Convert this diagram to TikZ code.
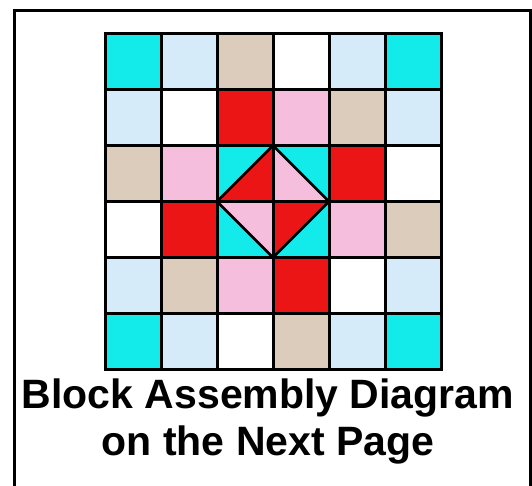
\documentclass[tikz,border=0pt]{standalone}
\usepackage{fontspec}
\setmainfont{Liberation Sans}
\definecolor{Cyancol}{HTML}{13EBEB}
\definecolor{Bluecol}{HTML}{D5EBFA}
\definecolor{Tancol}{HTML}{DCCCBC}
\definecolor{Redcol}{HTML}{EB1515}
\definecolor{Pinkcol}{HTML}{F5BEDC}
\usetikzlibrary{positioning}
\tikzset{
    gridline/.style={black, line width=3pt, line cap=rect},
    diamondline/.style={black, line width=2.5pt, line join=miter},
    caption/.style={anchor=base, font=\bfseries\fontsize{41}{47}\selectfont}
}

\begin{document}
\begin{tikzpicture}[x=1pt, y=-1pt]
    \def\S{56}
    \useasboundingbox (0,0) rectangle (532,485);
    \clip (0,0) rectangle (532,485);

    % Outer frame (open at the bottom edge)
    \draw[black, line width=3pt] (14.5,10.5) rectangle (530.5,500);

    % Quilt block
    \begin{scope}[shift={(105,33.5)}]
        \foreach \row/\cols in {
            0/{Cyancol,Bluecol,Tancol,white,Bluecol,Cyancol},
            1/{Bluecol,white,Redcol,Pinkcol,Tancol,Bluecol},
            2/{Tancol,Pinkcol,Cyancol,Cyancol,Redcol,white},
            3/{white,Redcol,Cyancol,Cyancol,Pinkcol,Tancol},
            4/{Bluecol,Tancol,Pinkcol,Redcol,white,Bluecol},
            5/{Cyancol,Bluecol,white,Tancol,Bluecol,Cyancol}} {
            \foreach \c [count=\i from 0] in \cols {
                \fill[\c] (\i*\S, \row*\S) rectangle ++(\S,\S);
            }
        }

        % Centre square-in-a-square
        \fill[Redcol]  (3*\S,2*\S) -- (3*\S,3*\S) -- (2*\S,3*\S) -- cycle;
        \fill[Pinkcol] (3*\S,2*\S) -- (4*\S,3*\S) -- (3*\S,3*\S) -- cycle;
        \fill[Pinkcol] (2*\S,3*\S) -- (3*\S,3*\S) -- (3*\S,4*\S) -- cycle;
        \fill[Redcol]  (4*\S,3*\S) -- (3*\S,4*\S) -- (3*\S,3*\S) -- cycle;
        \draw[diamondline] (3*\S,2*\S) -- (4*\S,3*\S) -- (3*\S,4*\S) -- (2*\S,3*\S) -- cycle;

        % Grid lines
        \foreach \k in {0,...,6} {
            \draw[gridline] (\k*\S,0) -- (\k*\S,6*\S);
            \draw[gridline] (0,\k*\S) -- (6*\S,\k*\S);
        }
    \end{scope}

    \node[caption] (title) at (268,408) {Block Assembly Diagram};
    \node[caption] (subtitle) at (268,455) {on the Next Page};
\end{tikzpicture}
\end{document}
